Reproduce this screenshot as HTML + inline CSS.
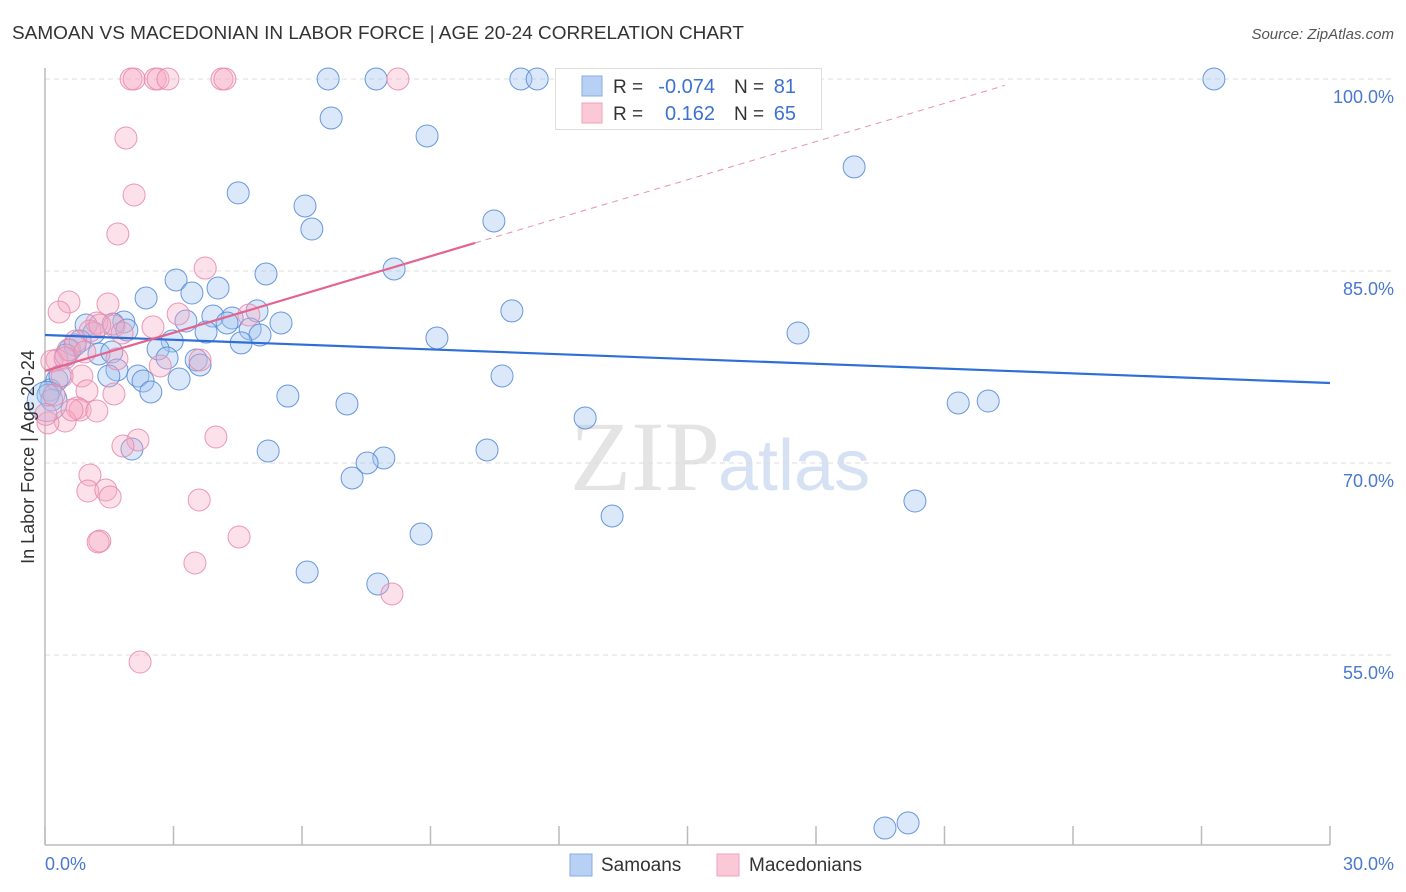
<!DOCTYPE html>
<html><head><meta charset="utf-8"><style>
body{margin:0;background:#fff;font-family:"Liberation Sans",sans-serif;}
#wrap{position:relative;width:1406px;height:892px;overflow:hidden;}
</style></head><body>
<div id="wrap">
<svg id="svg" width="1406" height="892" xmlns="http://www.w3.org/2000/svg">
<text x="12" y="39" font-size="18" fill="#333" textLength="732" lengthAdjust="spacingAndGlyphs">SAMOAN VS MACEDONIAN IN LABOR FORCE | AGE 20-24 CORRELATION CHART</text>
<text x="1394" y="39" font-size="15" fill="#555" font-style="italic" text-anchor="end">Source: ZipAtlas.com</text>
<text x="720" y="490" font-size="100" fill="#e4e4e4" text-anchor="end" font-family="Liberation Serif,serif">ZIP</text>
<text x="718" y="490" font-size="72" fill="#d6e2f3">atlas</text>
<g id="grid"></g>
<g id="marks"></g>
<g id="trends"></g>
<text transform="translate(34,457) rotate(-90)" font-size="18" fill="#333" text-anchor="middle">In Labor Force | Age 20-24</text>
<text x="45" y="870" font-size="18" fill="#4a78d0">0.0%</text>
<text x="1394" y="870" font-size="18" fill="#4a78d0" text-anchor="end">30.0%</text>
<g>
<rect x="555.5" y="68.5" width="266" height="61" fill="#fff" stroke="#ddd"/>
<rect x="582" y="76" width="20" height="20" fill="#b7d0f3" stroke="#85aee6"/>
<rect x="582" y="103" width="20" height="20" fill="#fbc8d7" stroke="#f0a1bb"/>
<text x="613" y="93" font-size="19" fill="#333">R = </text><text x="715" y="93" font-size="20" fill="#3d72d0" text-anchor="end">-0.074</text>
<text x="734" y="93" font-size="19" fill="#333">N = </text><text x="796" y="93" font-size="20" fill="#3d72d0" text-anchor="end">81</text>
<text x="613" y="120" font-size="19" fill="#333">R = </text><text x="715" y="120" font-size="20" fill="#3d72d0" text-anchor="end">0.162</text>
<text x="734" y="120" font-size="19" fill="#333">N = </text><text x="796" y="120" font-size="20" fill="#3d72d0" text-anchor="end">65</text>
</g>
<g>
<rect x="570" y="854" width="22" height="22" fill="#b7d0f3" stroke="#85aee6"/>
<text x="601" y="871" font-size="19" fill="#333">Samoans</text>
<rect x="717" y="854" width="22" height="22" fill="#fbc8d7" stroke="#f0a1bb"/>
<text x="749" y="871" font-size="19" fill="#333">Macedonians</text>
</g>
</svg>
</div>
<script>
const yTicks=[100,85,70,55];
const yTickLabels=["100.0%","85.0%","70.0%","55.0%"];
const xTicks=[0,3,6,9,12,15,18,21,24,27,30];
const samoanX=[6.61,7.73,11.11,11.49,27.29,6.68,8.92,18.89,4.51,6.07,6.23,10.48,5.16,8.15,3.06,2.36,3.43,4.04,10.9,4.95,5.51,3.92,4.37,3.29,4.25,1.84,1.59,0.96,1.14,3.76,4.79,5.02,1.91,17.58,9.15,4.58,2.97,2.64,2.85,3.53,3.62,1.26,1.56,0.58,0.82,1.68,2.17,1.49,2.29,2.47,3.13,10.67,5.67,7.05,21.32,22.02,12.61,0.28,0.12,0.16,2.03,5.21,10.32,7.91,7.52,7.17,13.24,20.31,8.78,6.12,7.77,19.61,20.15,0.35,0.07,0.7,0.49,0.05];
const samoanY=[100,100,100,100,100,96.95,95.55,93.13,91.1,90.08,88.28,88.91,84.77,85.16,84.3,82.89,83.28,83.67,81.88,81.88,80.94,81.48,81.33,81.09,80.94,81.02,80.86,80.78,80.16,80.23,80.47,80,80.39,80.16,79.77,79.38,79.53,78.91,78.2,78.05,77.66,78.52,78.67,78.83,79.53,77.27,76.8,76.8,76.41,75.55,76.56,76.8,75.23,74.61,74.69,74.84,73.52,76.48,75.7,74.92,71.09,70.94,71.02,70.39,70,68.83,65.86,67.03,64.45,61.48,60.55,41.48,41.88,76.8,75.31,79.22,78.44,74.8];
const samoanR=[11,11,11,11,11,11,11,11,11,11,11,11,11,11,11,11,11,11,11,11,11,11,11,11,11,11,11,11,11,11,11,11,11,11,11,11,11,11,11,11,11,11,11,11,11,11,11,11,11,11,11,11,11,11,11,11,11,11,11,11,11,11,11,11,11,11,11,11,11,11,11,11,11,11,11,11,11,20];
const macX=[2.01,2.08,2.57,2.64,2.87,4.13,4.2,8.24,1.89,2.08,1.7,3.74,0.56,1.47,0.33,3.11,1.21,1.61,2.52,4.76,1.05,1.8,0.72,0.54,0.28,0.16,0.47,1.68,2.69,3.62,0.86,0.4,0.98,1.61,0.21,0.75,0.82,1.21,0.47,0.07,2.17,1.82,3.99,1.05,1,1.42,1.52,3.6,1.28,1.24,4.53,3.5,8.1,2.22,1.28,0.63,0.02,0.93];
const macY=[100,100,100,100,100,100,100,100,95.39,90.94,87.89,85.23,82.58,82.42,81.8,81.64,80.94,80.7,80.63,81.56,80.31,80.16,79.53,78.83,78.05,77.97,78.2,78.13,77.58,78.05,76.8,76.8,75.63,75.39,75.31,74.3,74.14,74.06,73.28,73.13,71.8,71.33,72.03,69.06,67.81,67.89,67.34,67.11,63.91,63.83,64.22,62.19,59.77,54.45,80.78,74.14,73.8,78.67];
const blueTrendX=[0,30];
const blueTrendY=[80.0,76.25];
const pinkTrendX=[0,10.04,22.41];
const pinkTrendY=[77.19,87.19,99.5];

const X0=45,X1=1330,Y0=79,YS=12.8;
function sx(v){return X0+(X1-X0)*v/30;}
function sy(v){return Y0+(100-v)*YS;}
const NS="http://www.w3.org/2000/svg";
function mk(t,a,p){const e=document.createElementNS(NS,t);for(const k in a)e.setAttribute(k,a[k]);p.appendChild(e);return e;}
const grid=document.getElementById('grid'),marks=document.getElementById('marks'),trends=document.getElementById('trends');
yTicks.forEach((t,i)=>{
 const l=mk('line',{x1:45,x2:1394,y1:sy(t),y2:sy(t),stroke:'#dcdcdc','stroke-dasharray':'5,4'},grid);
 
 
 const tx=mk('text',{x:1394,y:sy(t)+24,'font-size':18,fill:'#4a78d0','text-anchor':'end'},grid);
 tx.textContent=yTickLabels[i];
 
 
});
const ax=mk('line',{x1:45,x2:45,y1:68,y2:845,stroke:'#bbb','stroke-width':1.5},grid);


const bx=mk('line',{x1:45,x2:1330,y1:845,y2:845,stroke:'#bbb','stroke-width':1.5},grid);


xTicks.forEach(t=>{
 const l=mk('line',{x1:sx(t),x2:sx(t),y1:826,y2:845,stroke:'#bbb','stroke-width':1.5},grid);
 
 
});
samoanX.forEach((v,i)=>{
 const c=mk('circle',{cx:sx(v),cy:sy(samoanY[i]),r:samoanR[i]||11,fill:'rgba(160,195,238,0.38)',stroke:'rgba(80,135,215,0.85)','stroke-width':1},marks);
 
 
});
macX.forEach((v,i)=>{
 const c=mk('circle',{cx:sx(v),cy:sy(macY[i]),r:11,fill:'rgba(245,170,195,0.35)',stroke:'rgba(232,135,170,0.85)','stroke-width':1},marks);
 
 
});
const bt=mk('line',{x1:sx(blueTrendX[0]),y1:sy(blueTrendY[0]),x2:sx(blueTrendX[1]),y2:sy(blueTrendY[1]),stroke:'#2d6fd6','stroke-width':2.2},trends);


const pt=mk('line',{x1:sx(pinkTrendX[0]),y1:sy(pinkTrendY[0]),x2:sx(pinkTrendX[1]),y2:sy(pinkTrendY[1]),stroke:'#e4638f','stroke-width':2.2},trends);


const pd=mk('line',{x1:sx(pinkTrendX[1]),y1:sy(pinkTrendY[1]),x2:sx(pinkTrendX[2]),y2:sy(pinkTrendY[2]),stroke:'#e890ae','stroke-width':1,'stroke-dasharray':'6,5'},trends);


</script>
</body></html>
